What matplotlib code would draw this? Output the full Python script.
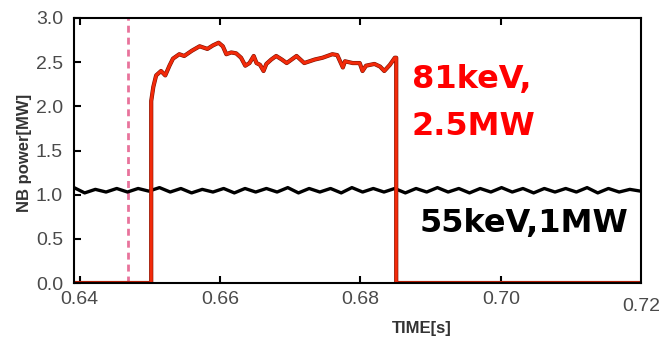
import numpy as np
import matplotlib
matplotlib.use("Agg")
import matplotlib.pyplot as plt

# 81keV beam (red)
red_t = [0.6392, 0.6502, 0.6502, 0.6505, 0.6509, 0.6516, 0.6522, 0.6528, 0.6533, 0.6542, 0.6549,
         0.6560, 0.6571, 0.6582, 0.6590, 0.6598, 0.6604, 0.6609, 0.6616, 0.6623, 0.6630,
         0.6636, 0.6642, 0.6648, 0.6652, 0.6657, 0.6662, 0.6666, 0.6673, 0.6680, 0.6688,
         0.6695, 0.6702, 0.6709, 0.6720, 0.6735, 0.6746, 0.6760, 0.6767, 0.6775,
         0.6778, 0.6789, 0.6799, 0.6803, 0.6808, 0.6820, 0.6828, 0.6834, 0.6842, 0.6849,
         0.6851, 0.6851, 0.7199]
red_p = [0.0, 0.0, 2.06, 2.22, 2.35, 2.40, 2.35, 2.46, 2.54, 2.59, 2.57,
         2.63, 2.68, 2.65, 2.69, 2.72, 2.68, 2.59, 2.61, 2.60, 2.55,
         2.46, 2.49, 2.57, 2.49, 2.47, 2.40, 2.48, 2.53, 2.57, 2.53,
         2.49, 2.53, 2.57, 2.49, 2.53, 2.55, 2.59, 2.58, 2.44,
         2.51, 2.49, 2.49, 2.40, 2.46, 2.48, 2.45, 2.40, 2.47, 2.55,
         2.55, 0.0, 0.0]

# 55keV beam (black), sampled every half wave
black_p = [1.08, 1.02, 1.06, 1.03, 1.07, 1.03, 1.07, 1.04, 1.08, 1.03,
           1.07, 1.02, 1.06, 1.03, 1.07, 1.02, 1.07, 1.03, 1.07, 1.03,
           1.08, 1.02, 1.07, 1.03, 1.07, 1.02, 1.08, 1.03, 1.07, 1.03,
           1.07, 1.02, 1.07, 1.03, 1.08, 1.03, 1.07, 1.02, 1.07, 1.03,
           1.08, 1.03, 1.07, 1.02, 1.07, 1.03, 1.07, 1.03, 1.08, 1.02,
           1.07, 1.03, 1.06, 1.04]
black_t = np.linspace(0.6392, 0.7199, len(black_p))

t_mark = 0.6469
xticks = [0.64, 0.66, 0.68, 0.70]
xticklabels = ["0.64", "0.66", "0.68", "0.70"]
yticks = [0.0, 0.5, 1.0, 1.5, 2.0, 2.5, 3.0]
red_label = ["81keV,", "2.5MW"]
black_label = "55keV,1MW"

fig = plt.figure(figsize=(6.63, 3.37), dpi=100)
ax = fig.add_axes([0.1116, 0.1602, 0.8545, 0.7864])

ax.axvline(t_mark, color="#e8739c", lw=2, linestyle=(0, (2.5, 1.8)))
ax.plot(black_t, black_p, color="black", lw=2.4, solid_joinstyle="round")
ax.plot(red_t, red_p, color="#7a1000", lw=3.0, solid_joinstyle="round")
ax.plot(red_t, red_p, color="#f22a0a", lw=2.2, solid_joinstyle="round")

ax.set_xlim(0.6392, 0.7199)
ax.set_ylim(0, 3.0)
ax.set_xticks(xticks)
ax.set_xticklabels(xticklabels)
ax.set_yticks(yticks)
ax.set_yticklabels(["%.1f" % v for v in yticks])
ax.tick_params(direction="in", length=5, width=1.5, top=True, right=False,
               labelsize=14, labelcolor="#4a4a4a", pad=6)
ax.tick_params(axis="y", pad=8)
for s in ax.spines.values():
    s.set_linewidth(1.5)
ax.text(0.72, -0.055, "0.72", transform=ax.get_xaxis_transform(), ha="center", va="top",
        fontsize=14, color="#4a4a4a", family="Liberation Sans", clip_on=False)
for lab in ax.get_xticklabels() + ax.get_yticklabels():
    lab.set_family("Liberation Sans")

ax.text(0.6873, 2.21, red_label[0], color="#ff0000", fontsize=23, fontweight="bold", va="baseline")
ax.text(0.6873, 1.68, red_label[1], color="#ff0000", fontsize=23, fontweight="bold", va="baseline")
ax.text(0.6884, 0.575, black_label, color="black", fontsize=23, fontweight="bold", va="baseline")

fig.text(24 / 663, (337 - 153) / 337, "NB power[MW]", rotation=90, ha="center", va="center",
         fontsize=12, fontweight="bold", color="#333333", family="Liberation Sans")
fig.text(422 / 663, (337 - 328) / 337, "TIME[s]", ha="center", va="center",
         fontsize=12, fontweight="bold", color="#333333", family="Liberation Sans")

fig.savefig("out.png", dpi=100)
